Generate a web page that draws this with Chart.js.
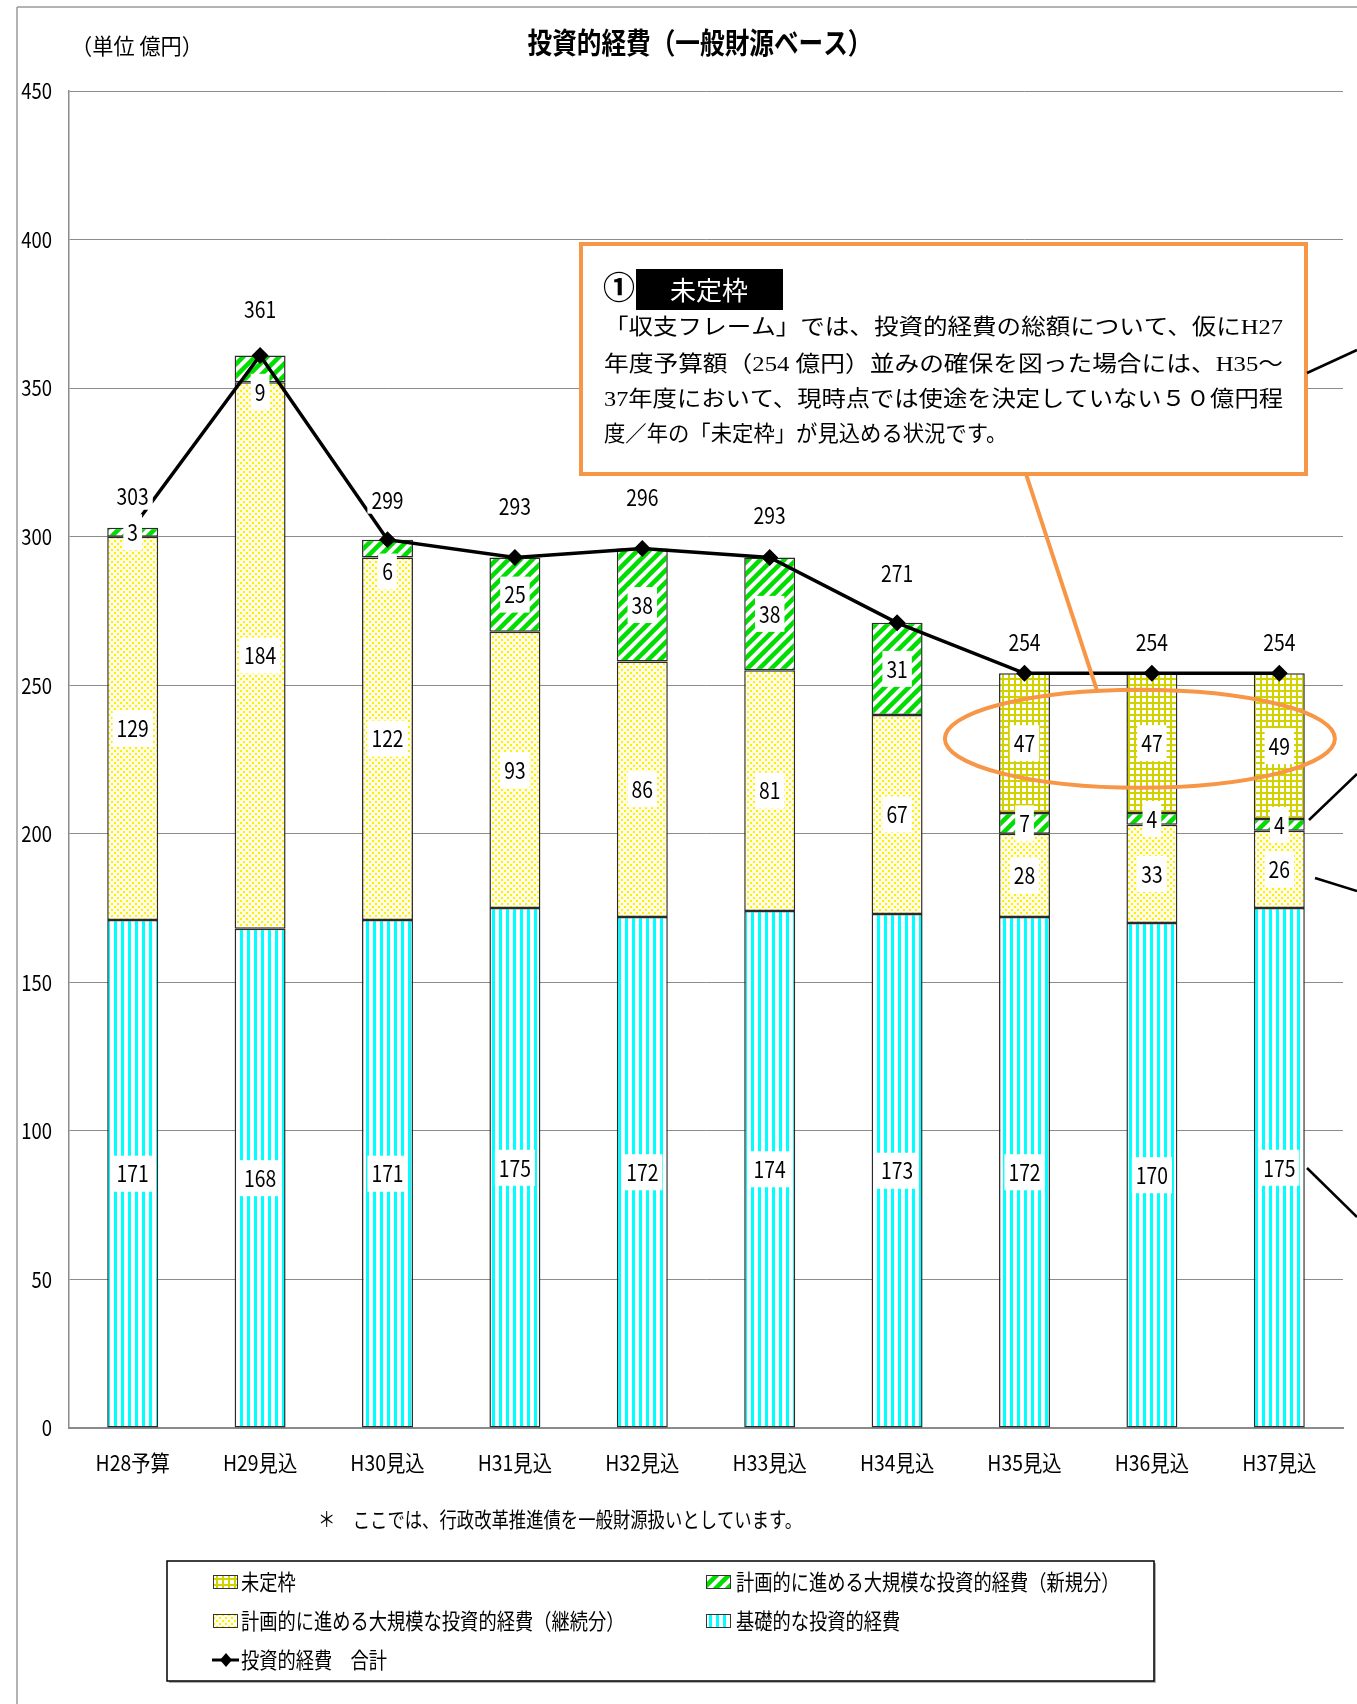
<!DOCTYPE html>
<html lang="ja">
<head>
<meta charset="utf-8">
<title>投資的経費（一般財源ベース）</title>
<script src="https://cdn.jsdelivr.net/npm/chart.js@4.4.1/dist/chart.umd.min.js"></script>
<style>
  html, body { margin: 0; padding: 0; background: #fff; }
  #wrap { width: 1357px; height: 1704px; }
</style>
</head>
<body>
<div id="wrap"><canvas id="chart" width="1357" height="1704"></canvas></div>
<script>
// 年度
const years = ['H28予算', 'H29見込', 'H30見込', 'H31見込', 'H32見込', 'H33見込', 'H34見込', 'H35見込', 'H36見込', 'H37見込'];
// 億円
const kiso    = [171, 168, 171, 175, 172, 174, 173, 172, 170, 175]; // 基礎的な投資的経費
const keizoku = [129, 184, 122,  93,  86,  81,  67,  28,  33,  26]; // 大規模（継続分）
const shinki  = [  3,   9,   6,  25,  38,  38,  31,   7,   4,   4]; // 大規模（新規分）
const mitei   = [  0,   0,   0,   0,   0,   0,   0,  47,  47,  49]; // 未定枠
const total   = [303, 361, 299, 293, 296, 293, 271, 254, 254, 254]; // 合計
const yMin = 0, yMax = 450, yStep = 50;

const SANS = '"Noto Sans CJK JP", sans-serif';
const SERIF = '"Liberation Serif", "Noto Sans CJK JP", serif';
const ORANGE = '#F79646';
const NARROW_X = 0.84; // 数字・目盛を細身にする倍率

const canvas = document.getElementById('chart');
const ctx0 = canvas.getContext('2d');

function makePattern(w, h, draw) {
  const c = document.createElement('canvas');
  c.width = w; c.height = h;
  const g = c.getContext('2d');
  g.fillStyle = '#fff';
  g.fillRect(0, 0, w, h);
  draw(g, w, h);
  return ctx0.createPattern(c, 'repeat');
}

// 縦じま（水色）
const kisoFill = makePattern(7, 7, (g, w, h) => {
  g.fillStyle = '#00FFFF';
  g.fillRect(2, 0, 3, h);
});
// 細かい点（黄）
const keizokuFill = makePattern(6, 6, (g, w, h) => {
  g.fillStyle = '#FFFDE8';
  g.fillRect(0, 0, w, h);
  g.fillStyle = '#FFEE00';
  g.fillRect(0, 0, 2, 2);
  g.fillRect(3, 3, 2, 2);
});
// 斜線（緑）
const shinkiFill = makePattern(12, 12, (g, w, h) => {
  g.strokeStyle = '#00DD00';
  g.lineWidth = 4.5;
  g.beginPath();
  for (const o of [-w, 0, w]) {
    g.moveTo(o - 2, h + 2);
    g.lineTo(o + w + 2, -2);
  }
  g.stroke();
});
// 格子（黄土）
const miteiFill = makePattern(6, 6, (g, w, h) => {
  g.fillStyle = '#D2D200';
  g.fillRect(0, 0, w, 2);
  g.fillRect(0, 0, 2, h);
});

// 横方向に詰めて文字を描く
function drawText(ctx, str, x, y, font, opt = {}) {
  ctx.save();
  ctx.font = font;
  ctx.fillStyle = opt.color || '#000';
  ctx.textBaseline = 'middle';
  ctx.textAlign = 'left';
  const raw = ctx.measureText(str).width;
  const sx = opt.width ? opt.width / raw : (opt.scaleX || 1);
  const w = raw * sx;
  const left = opt.align === 'center' ? x - w / 2 : opt.align === 'right' ? x - w : x;
  if (opt.bg) {
    ctx.fillStyle = opt.bg;
    ctx.fillRect(left - 4, y - opt.bgH / 2, w + 8, opt.bgH);
    ctx.fillStyle = opt.color || '#000';
  }
  ctx.translate(left, y);
  ctx.scale(sx, 1);
  ctx.fillText(str, 0, 0);
  ctx.restore();
  return w;
}

function line(ctx, x1, y1, x2, y2, color, width) {
  ctx.save();
  ctx.strokeStyle = color;
  ctx.lineWidth = width;
  ctx.beginPath();
  ctx.moveTo(x1, y1);
  ctx.lineTo(x2, y2);
  ctx.stroke();
  ctx.restore();
}

const pagePlugin = {
  id: 'page',
  beforeDraw(chart) {
    const ctx = chart.ctx;
    ctx.save();
    ctx.fillStyle = '#fff';
    ctx.fillRect(0, 0, chart.width, chart.height);
    ctx.restore();
    line(ctx, 17, 7, chart.width, 7, '#9a9a9a', 1.5);
    line(ctx, 17, 7, 17, chart.height, '#9a9a9a', 1.5);
    drawText(ctx, '投資的経費（一般財源ベース）', 700, 43, 'bold 29px ' + SANS, { align: 'center', width: 345 });
    drawText(ctx, '（単位 億円）', 71, 46, '22px ' + SANS, { width: 132 });
  },
  // 目盛ラベルは細身の字で軸の位置に描く
  afterDraw(chart) {
    const ctx = chart.ctx;
    const xs = chart.scales.x, ys = chart.scales.y;
    const f = '22px ' + SANS;
    ys.ticks.forEach(t => {
      drawText(ctx, String(t.value), ys.right - 17, ys.getPixelForValue(t.value), f, { align: 'right', scaleX: NARROW_X });
    });
    chart.data.labels.forEach((lab, i) => {
      drawText(ctx, lab, xs.getPixelForValue(i), xs.top + 35, f, { align: 'center', scaleX: 0.88 });
    });
  }
};

const labelPlugin = {
  id: 'valueLabels',
  afterDatasetsDraw(chart, args, opts) {
    const ctx = chart.ctx;
    const font = '23px ' + SANS;
    chart.data.datasets.forEach((ds, di) => {
      const meta = chart.getDatasetMeta(di);
      meta.data.forEach((el, i) => {
        const v = ds.data[i];
        if (!v) return;
        if (ds.type === 'line') {
          drawText(ctx, String(v), el.x, el.y - opts.lift[i], font, { align: 'center', scaleX: NARROW_X, bg: '#fff', bgH: 26 });
        } else {
          const cy = (el.y + el.base) / 2 + (opts.nudge[di + '-' + i] || 0);
          drawText(ctx, String(v), el.x, cy, font, { align: 'center', scaleX: NARROW_X, bg: '#fff', bgH: 36 });
        }
      });
    });
  }
};

const notePlugin = {
  id: 'notes',
  afterDraw(chart) {
    const ctx = chart.ctx;
    const xs = chart.scales.x, ys = chart.scales.y;

    // 未定枠を囲む楕円と吹き出し
    const ex = xs.getPixelForValue(8) - 12;
    const ey = ys.getPixelForValue(232);
    ctx.save();
    ctx.strokeStyle = ORANGE;
    ctx.lineWidth = 4;
    ctx.beginPath();
    ctx.ellipse(ex, ey, 195, 49, 0, 0, Math.PI * 2);
    ctx.stroke();
    ctx.restore();
    line(ctx, 1097, ey - 48, 1026, 474, ORANGE, 4);

    ctx.save();
    ctx.fillStyle = '#fff';
    ctx.fillRect(581, 244, 725, 230);
    ctx.strokeStyle = ORANGE;
    ctx.lineWidth = 4;
    ctx.strokeRect(581, 244, 725, 230);
    ctx.fillStyle = '#000';
    ctx.fillRect(636, 269, 147, 41);
    ctx.restore();
    drawText(ctx, '①', 603, 291, 'bold 32px ' + SERIF, { width: 32 });
    drawText(ctx, '未定枠', 709, 290, '26px ' + SANS, { align: 'center', color: '#fff' });
    const body = [
      '「収支フレーム」では、投資的経費の総額について、仮にH27',
      '年度予算額（254 億円）並みの確保を図った場合には、H35～',
      '37年度において、現時点では使途を決定していない５０億円程',
      '度／年の「未定枠」が見込める状況です。'
    ];
    const by = [328, 365, 400, 435];
    body.forEach((t, i) => {
      const opt = i < 3 ? { width: 679 } : { scaleX: 0.97 };
      drawText(ctx, t, 604, by[i], '22px ' + SERIF, opt);
    });

    // 右端の引き出し線
    line(ctx, 1307, 373, 1357, 350, '#000', 2.5);
    line(ctx, 1309, 820, 1357, 774, '#000', 2.5);
    line(ctx, 1315, 878, 1357, 891, '#000', 2.5);
    line(ctx, 1307, 1168, 1357, 1217, '#000', 2.5);

    // 注記
    drawText(ctx, '＊　ここでは、行政改革推進債を一般財源扱いとしています。', 318, 1519, '21px ' + SANS, { width: 484 });

    // 凡例
    ctx.save();
    ctx.fillStyle = '#b0b0b0';
    ctx.fillRect(169, 1681, 987, 2);
    ctx.fillRect(1154, 1563, 2, 120);
    ctx.strokeStyle = '#000';
    ctx.lineWidth = 1.5;
    ctx.strokeRect(167, 1561, 987, 120);
    ctx.restore();

    const ds = chart.data.datasets;
    const box = (x, y, fill) => {
      ctx.save();
      ctx.fillStyle = fill;
      ctx.fillRect(x, y - 7, 25, 14);
      ctx.strokeStyle = '#333';
      ctx.lineWidth = 1;
      ctx.strokeRect(x + 0.5, y - 6.5, 24, 13);
      ctx.restore();
    };
    const lf = '22px ' + SANS;
    const sx = 0.83;
    box(213, 1582, ds[3].backgroundColor);
    drawText(ctx, ds[3].label, 241, 1582, lf, { scaleX: sx });
    box(706, 1582, ds[2].backgroundColor);
    drawText(ctx, ds[2].label, 736, 1582, lf, { scaleX: sx });
    box(213, 1621, ds[1].backgroundColor);
    drawText(ctx, ds[1].label, 241, 1621, lf, { scaleX: sx });
    box(706, 1621, ds[0].backgroundColor);
    drawText(ctx, ds[0].label, 736, 1621, lf, { scaleX: sx });
    line(ctx, 212, 1660, 239, 1660, '#000', 3);
    ctx.save();
    ctx.fillStyle = '#000';
    ctx.beginPath();
    ctx.moveTo(226, 1653); ctx.lineTo(232, 1660); ctx.lineTo(226, 1667); ctx.lineTo(220, 1660);
    ctx.closePath();
    ctx.fill();
    ctx.restore();
    drawText(ctx, ds[4].label, 241, 1660, lf, { scaleX: sx });
  }
};

const barBase = {
  type: 'bar',
  stack: 'bars',
  borderColor: '#2a2a2a',
  borderWidth: 1.5,
  borderSkipped: false,
  barPercentage: 0.4,
  categoryPercentage: 1,
  order: 2
};

new Chart(canvas, {
  data: {
    labels: years,
    datasets: [
      { ...barBase, label: '基礎的な投資的経費', data: kiso, backgroundColor: kisoFill },
      { ...barBase, label: '計画的に進める大規模な投資的経費（継続分）', data: keizoku, backgroundColor: keizokuFill },
      { ...barBase, label: '計画的に進める大規模な投資的経費（新規分）', data: shinki, backgroundColor: shinkiFill },
      { ...barBase, label: '未定枠', data: mitei.map(v => v || null), backgroundColor: miteiFill },
      {
        type: 'line',
        label: '投資的経費　合計',
        stack: 'total',
        data: total,
        borderColor: '#000',
        borderWidth: 3.5,
        tension: 0,
        pointStyle: 'rectRot',
        pointRadius: 6,
        pointBackgroundColor: '#000',
        pointBorderColor: '#000',
        order: 1
      }
    ]
  },
  options: {
    responsive: false,
    animation: false,
    devicePixelRatio: 1,
    layout: { padding: { top: 91, right: 14, left: 0, bottom: 0 } },
    plugins: {
      legend: { display: false },
      tooltip: { enabled: false },
      // 合計ラベルの持ち上げ量と、折れ線を避けて下げた内訳ラベル
      valueLabels: {
        lift: [31, 46, 39, 51, 51, 42, 50, 31, 31, 31],
        nudge: { '2-1': 23, '2-2': 23 }
      }
    },
    scales: {
      x: {
        stacked: true,
        grid: { display: false, drawTicks: false },
        border: { display: true, color: '#8a8a8a', width: 2 },
        ticks: { display: false },
        afterFit(s) { s.height = 276; }
      },
      y: {
        stacked: true,
        min: yMin,
        max: yMax,
        grid: { color: '#8c8c8c', lineWidth: 1, drawTicks: false },
        border: { display: true, color: '#8a8a8a', width: 1.5 },
        ticks: { stepSize: yStep, display: false },
        afterFit(s) { s.width = 69; }
      }
    }
  },
  plugins: [pagePlugin, labelPlugin, notePlugin]
});
</script>
</body>
</html>
